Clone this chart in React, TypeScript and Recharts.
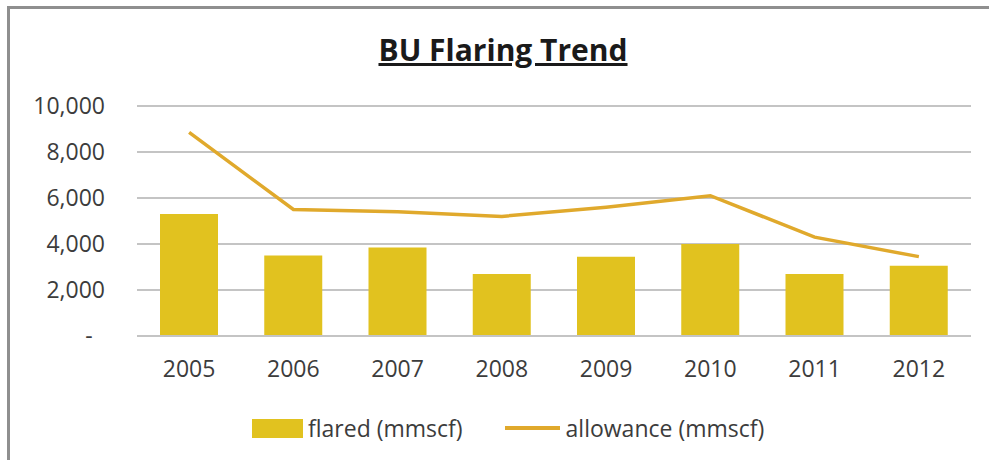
import {
  ComposedChart,
  Bar,
  Line,
  XAxis,
  YAxis,
  CartesianGrid,
  Legend,
} from "recharts";

const years = ["2005", "2006", "2007", "2008", "2009", "2010", "2011", "2012"];
const flared = [5300, 3500, 3850, 2700, 3450, 4000, 2700, 3050];
const allowance = [8850, 5500, 5400, 5200, 5600, 6100, 4300, 3450];
const yTicks = [0, 2000, 4000, 6000, 8000, 10000];

const data = years.map((year, i) => ({
  year,
  flared: flared[i],
  allowance: allowance[i],
}));

const FONT = "'Open Sans', Lato, sans-serif";
const TEXT = "#3c3c3c";
const BAR_COLOR = "#E1C21F";
const LINE_COLOR = "#E0A92C";

const YTick = ({ x, y, payload }) => {
  const isZero = payload.value === 0;
  return (
    <text
      x={isZero ? x - 16 : x}
      y={y}
      dy="0.35em"
      textAnchor={isZero ? "middle" : "end"}
      fill={TEXT}
      fontSize={23}
      fontFamily={FONT}
    >
      {isZero ? "-" : payload.value.toLocaleString("en-US")}
    </text>
  );
};

const LegendContent = () => (
  <div
    style={{
      display: "flex",
      alignItems: "center",
      fontFamily: FONT,
      fontSize: 23,
      color: TEXT,
      paddingTop: 32,
      paddingLeft: 252,
      whiteSpace: "nowrap",
    }}
  >
    <span style={{ display: "inline-block", width: 51, height: 19, background: BAR_COLOR, marginRight: 5 }} />
    <span>flared (mmscf)</span>
    <span style={{ display: "inline-block", width: 55, height: 4, background: LINE_COLOR, marginLeft: 42, marginRight: 6 }} />
    <span>allowance (mmscf)</span>
  </div>
);

export default function App() {
  return (
    <div style={{ position: "absolute", left: 0, top: 0, width: 989, height: 460, background: "#fff", overflow: "hidden" }}>
      <div
        style={{
          position: "absolute",
          left: 7,
          top: 6,
          width: 982,
          height: 454,
          borderTop: "3px solid #8f8f8f",
          borderLeft: "3px solid #8f8f8f",
          boxSizing: "border-box",
        }}
      />
      <div
        style={{
          position: "absolute",
          left: 0,
          top: 29,
          width: 1006,
          textAlign: "center",
          fontFamily: FONT,
          fontWeight: 700,
          fontSize: 30,
          textDecoration: "underline",
          color: "#1a1a1a",
        }}
      >
        BU Flaring Trend
      </div>
      <div style={{ position: "absolute", left: 0, top: 0 }}>
        <ComposedChart
          width={989}
          height={460}
          data={data}
          margin={{ top: 106, right: 18, bottom: 20, left: 0 }}
        >
          <CartesianGrid vertical={false} stroke="#c4c4c4" strokeWidth={2} />
          <XAxis
            dataKey="year"
            height={44}
            tickLine={false}
            axisLine={{ stroke: "#c4c4c4", strokeWidth: 2 }}
            tickSize={0}
            tickMargin={25}
            tick={{ fill: TEXT, fontSize: 23, fontFamily: FONT }}
          />
          <YAxis
            width={137}
            domain={[0, 10000]}
            ticks={yTicks}
            axisLine={false}
            tickLine={false}
            tickSize={0}
            tickMargin={32}
            tick={<YTick />}
          />
          <Legend verticalAlign="bottom" height={60} content={<LegendContent />} />
          <Bar dataKey="flared" fill={BAR_COLOR} barSize={58} isAnimationActive={false} />
          <Line
            type="linear"
            dataKey="allowance"
            stroke={LINE_COLOR}
            strokeWidth={3.5}
            dot={false}
            isAnimationActive={false}
          />
        </ComposedChart>
      </div>
    </div>
  );
}
